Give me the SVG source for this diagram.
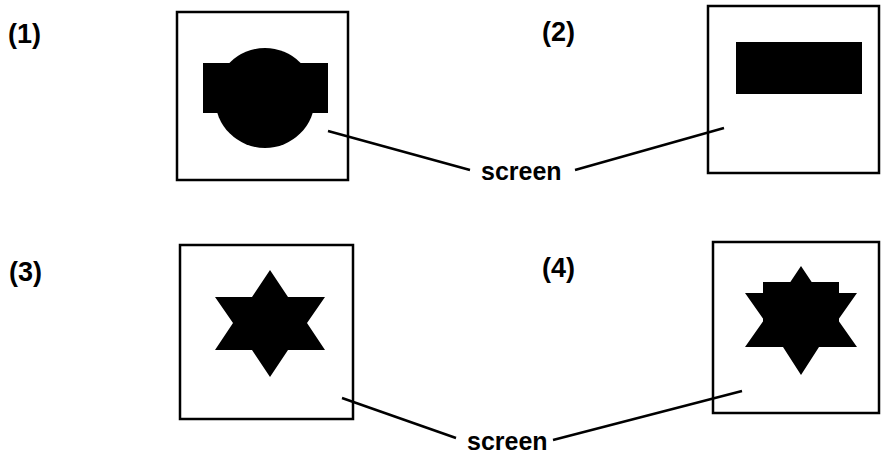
<svg xmlns="http://www.w3.org/2000/svg" width="881" height="457" viewBox="0 0 881 457">
<style>
.box{fill:#fff;stroke:#000;stroke-width:2.5}
.shape{fill:#000;stroke:none}
.lbl{font-family:"Liberation Sans",Arial,sans-serif;font-weight:bold;font-size:27px;fill:#000}
.scr{font-family:"Liberation Sans",Arial,sans-serif;font-weight:bold;font-size:25px;fill:#000}
.conn{stroke:#000;stroke-width:2.5;fill:none}
</style>
<rect width="881" height="457" fill="#fff"/>
<g id="panel1">
<text class="lbl" x="8" y="43">(1)</text>
<rect class="box" x="177" y="12" width="171" height="168"/>
<circle class="shape" cx="265" cy="98" r="50"/>
<rect class="shape" x="203" y="63" width="125" height="50"/>
</g>
<g id="panel2">
<text class="lbl" x="542" y="41">(2)</text>
<rect class="box" x="708" y="6" width="171" height="167"/>
<rect class="shape" x="736" y="42" width="126" height="52"/>
</g>
<g id="panel3">
<text class="lbl" x="9" y="281">(3)</text>
<rect class="box" x="180" y="245" width="173" height="174"/>
<polygon class="shape" points="270,270 288,297 325,297 307,323 325,350 288,350 270,377 252,350 215,350 233,323 215,297 252,297"/>
</g>
<g id="panel4">
<text class="lbl" x="542" y="277">(4)</text>
<rect class="box" x="713" y="242" width="166" height="171"/>
<polygon class="shape" points="801,266 819,293 857,293 838,320 857,347 819,347 801,375 783,347 745,347 764,320 745,293 783,293"/>
<rect class="shape" x="763" y="282" width="76" height="45"/>
</g>
<g id="labels">
<text class="scr" x="481" y="180">screen</text>
<text class="scr" x="467" y="450">screen</text>
</g>
<g id="connectors">
<line class="conn" x1="328" y1="131" x2="470" y2="170"/>
<line class="conn" x1="575" y1="170" x2="724" y2="128"/>
<line class="conn" x1="342" y1="398" x2="456" y2="438"/>
<line class="conn" x1="553" y1="440" x2="742" y2="391"/>
</g>
</svg>
